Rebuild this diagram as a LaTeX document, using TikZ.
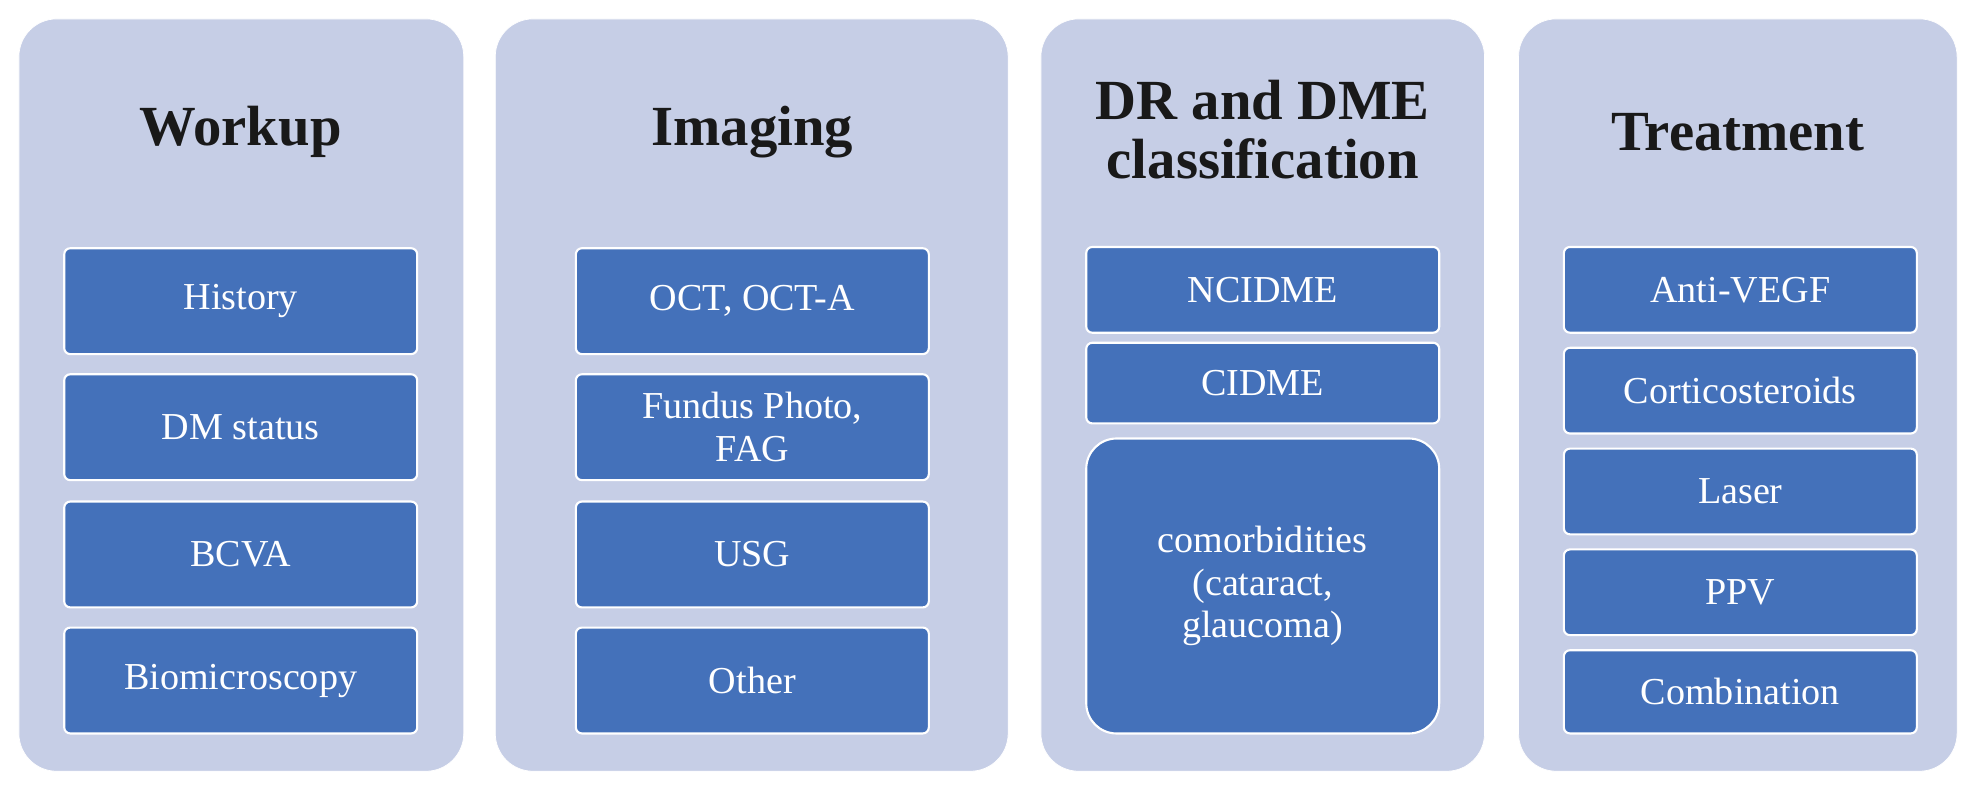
\documentclass[tikz,border=0pt]{standalone}
\usepackage{fontspec}
\setmainfont{Liberation Serif}
\definecolor{panelfill}{HTML}{C6CEE6}
\definecolor{boxfill}{HTML}{4471BA}
\tikzstyle{panel}=[fill=panelfill,draw=white,rounded corners=0.75cm,inner sep=0pt]
\tikzstyle{item}=[fill=boxfill,draw=white,line width=1.2pt,rounded corners=0.12cm,text=white,font=\fontsize{21.5}{24}\selectfont,align=center,inner sep=0pt,minimum width=7.0cm]
\tikzstyle{head}=[font=\bfseries\fontsize{32}{33}\selectfont,align=center,text=black!90]
\begin{document}
\begin{tikzpicture}[x=0.025cm,y=-0.025cm]
        \useasboundingbox (0,0) rectangle (1568,635);
        % panels
        \draw[panel] (15,15) rectangle (368,612);
        \draw[panel] (393,15) rectangle (800,612);
        \draw[panel] (826,15) rectangle (1178,612);
        \draw[panel] (1205,15) rectangle (1553,612);
        % headings
        \node[head] (hw) at (191,105) {Workup};
        \node[head] (hi) at (597,105) {Imaging};
        \node[head] (hd) at (1002,103) {DR and DME\\classification};
        \node[head] (ht) at (1379,105) {Treatment};
        % workup
        \node[item,minimum height=2.1cm] (w1) at (191,239) {History};
        \node[item,minimum height=2.1cm] (w2) at (191,339) {DM status};
        \node[item,minimum height=2.1cm] (w3) at (191,440) {BCVA};
        \node[item,minimum height=2.1cm] (w4) at (191,540) {Biomicroscopy};
        % imaging
        \node[item,minimum height=2.1cm] (i1) at (597,239) {OCT, OCT-A};
        \node[item,minimum height=2.1cm] (i2) at (597,339) {Fundus Photo,\\FAG};
        \node[item,minimum height=2.1cm] (i3) at (597,440) {USG};
        \node[item,minimum height=2.1cm] (i4) at (597,540) {Other};
        % classification
        \node[item,minimum height=1.7cm] (d1) at (1002,230) {NCIDME};
        \node[item,minimum height=1.6cm] (d2) at (1002,304) {CIDME};
        \node[item,minimum height=5.85cm,rounded corners=0.6cm] (d3) at (1002,465) {comorbidities\\(cataract,\\glaucoma)};
        % treatment
        \node[item,minimum height=1.7cm] (t1) at (1381,230) {Anti-VEGF};
        \node[item,minimum height=1.7cm] (t2) at (1381,310) {Corticosteroids};
        \node[item,minimum height=1.7cm] (t3) at (1381,390) {Laser};
        \node[item,minimum height=1.7cm] (t4) at (1381,470) {PPV};
        \node[item,minimum height=1.65cm] (t5) at (1381,549) {Combination};
\end{tikzpicture}
\end{document}
